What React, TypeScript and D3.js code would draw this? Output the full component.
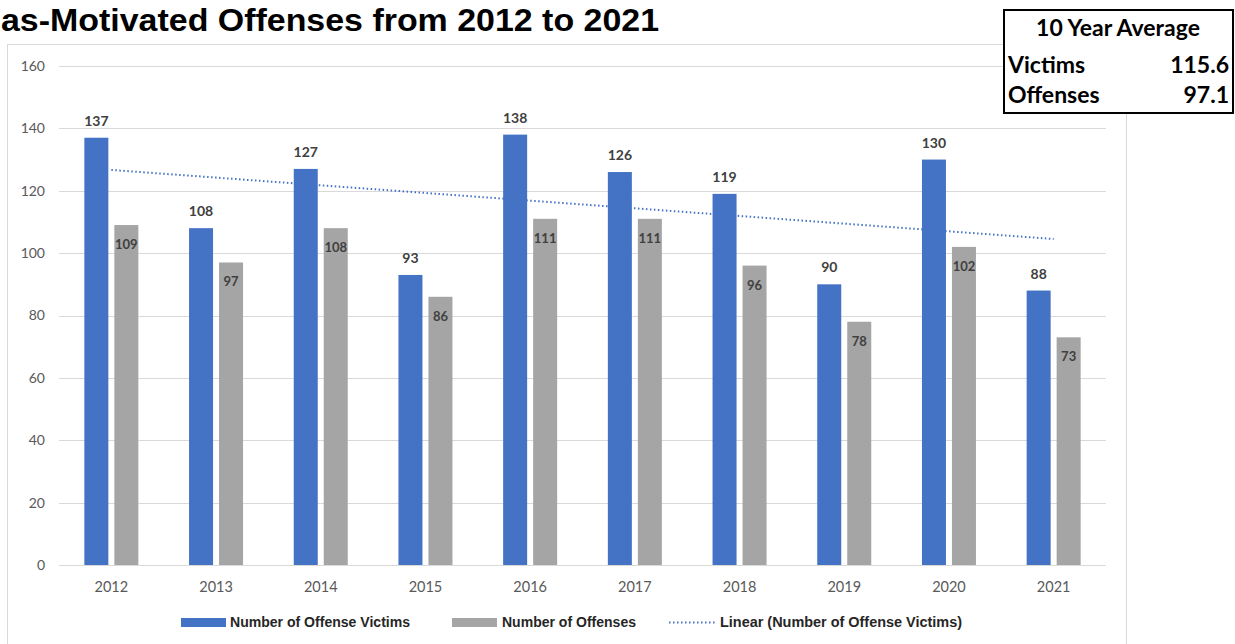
import React from "react";
import * as d3 from "d3";

const years = ["2012", "2013", "2014", "2015", "2016", "2017", "2018", "2019", "2020", "2021"];
const victims = [137, 108, 127, 93, 138, 126, 119, 90, 130, 88];
const offenses = [109, 97, 108, 86, 111, 111, 96, 78, 102, 73];
const yTicks = [0, 20, 40, 60, 80, 100, 120, 140, 160];
const avgLabels = ["Victims", "Offenses"];
const avgValues = ["115.6", "97.1"];
const legendLabels = ["Number of Offense Victims", "Number of Offenses", "Linear (Number of Offense Victims)"];
const titleText = "as-Motivated Offenses from 2012 to 2021";

const BLUE = "#4472C4";
const GRAY = "#A5A5A5";
const GRID = "#D9D9D9";
const AXIS_TXT = "#595959";
const LABEL_TXT = "#404040";

export default function App() {
  const W = 1235, H = 644;
  const x = d3.scaleBand<string>().domain(years).range([59, 1106]).paddingInner(0).paddingOuter(0);
  const y = d3.scaleLinear().domain([0, 160]).range([565, 66]);
  const bw = x.bandwidth();
  const inner = d3.scaleBand<string>().domain(["v", "o"]).range([bw / 2 - 27, bw / 2 + 27]).paddingInner(0.2);

  // linear trendline (least squares) of victims
  const xs = victims.map((_, i) => i + 1);
  const mx = d3.mean(xs)!;
  const my = d3.mean(victims)!;
  const slope = d3.sum(xs.map((xi, i) => (xi - mx) * (victims[i] - my))) / d3.sum(xs.map((xi) => (xi - mx) ** 2));
  const icpt = my - slope * mx;
  const trend = d3.line<number>()
    .x((xi) => x(years[xi - 1])! + bw / 2)
    .y((xi) => y(icpt + slope * xi));

  const sans = "'Liberation Sans', Arial, sans-serif";
  const cal = "Lato, 'Open Sans', sans-serif";

  return (
    <svg width={W} height={H} style={{ position: "absolute", left: 0, top: 0, background: "#fff" }}>
      {/* title */}
      <text x={1} y={31} fontFamily={sans} fontWeight="bold" fontSize={32} fill="#000" textLength={658} lengthAdjust="spacingAndGlyphs">
        {titleText}
      </text>
      {/* chart frame */}
      <rect x={7.5} y={44.5} width={1119} height={640} fill="none" stroke={GRID} strokeWidth={1} />
      {/* gridlines */}
      {yTicks.map((t) => (
        <line key={t} x1={59} x2={1106} y1={Math.round(y(t)) + 0.5} y2={Math.round(y(t)) + 0.5} stroke={GRID} strokeWidth={1} />
      ))}
      {yTicks.map((t) => (
        <text key={"l" + t} x={45} y={y(t)} dy="0.35em" textAnchor="end" fontFamily={cal} fontSize={14} fill={AXIS_TXT}>
          {t}
        </text>
      ))}
      {/* bars */}
      {years.map((yr, i) => {
        const x0 = x(yr)!;
        return (
          <g key={yr}>
            <rect x={x0 + inner("v")!} y={y(victims[i])} width={inner.bandwidth()} height={y(0) - y(victims[i])} fill={BLUE} />
            <rect x={x0 + inner("o")!} y={y(offenses[i])} width={inner.bandwidth()} height={y(0) - y(offenses[i])} fill={GRAY} />
          </g>
        );
      })}
      {/* trendline */}
      <path d={trend(xs) || ""} fill="none" stroke={BLUE} strokeWidth={2} strokeDasharray="1.5 2.5" strokeLinecap="butt" />
      {/* data labels */}
      {years.map((yr, i) => {
        const x0 = x(yr)!;
        return (
          <g key={"dl" + yr} fontFamily={cal} fontWeight="bold" fill={LABEL_TXT}>
            <text x={x0 + inner("v")! + inner.bandwidth() / 2} y={y(victims[i]) - 12} textAnchor="middle" fontSize={14}>
              {victims[i]}
            </text>
            <text x={x0 + inner("o")! + inner.bandwidth() / 2} y={y(offenses[i]) + 24} textAnchor="middle" fontSize={13}>
              {offenses[i]}
            </text>
          </g>
        );
      })}
      {/* x labels */}
      {years.map((yr) => (
        <text key={"x" + yr} x={x(yr)! + bw / 2} y={592} textAnchor="middle" fontFamily={cal} fontSize={14.5} fill={AXIS_TXT}>
          {yr}
        </text>
      ))}
      {/* legend */}
      <g fontFamily={sans} fontWeight="bold" fontSize={14.5} fill="#262626">
        <rect x={181} y={618} width={45} height={9} fill={BLUE} />
        <text x={230} y={627} textLength={180} lengthAdjust="spacingAndGlyphs">{legendLabels[0]}</text>
        <rect x={452} y={618} width={45} height={9} fill={GRAY} />
        <text x={502} y={627} textLength={134} lengthAdjust="spacingAndGlyphs">{legendLabels[1]}</text>
        <line x1={669} x2={715} y1={622.5} y2={622.5} stroke={BLUE} strokeWidth={2} strokeDasharray="1.5 2.5" />
        <text x={720} y={627} textLength={242} lengthAdjust="spacingAndGlyphs">{legendLabels[2]}</text>
      </g>
      {/* average table */}
      <rect x={1004} y={10} width={229} height={103} fill="#fff" stroke="#000" strokeWidth={2} />
      <g fontFamily={cal} fontWeight="bold" fill="#000">
        <text x={1118} y={36} textAnchor="middle" fontSize={23}>10 Year Average</text>
        {avgLabels.map((lab, i) => (
          <g key={lab}>
            <text x={1008} y={73 + i * 29.5} fontSize={23}>{lab}</text>
            <text x={1229} y={73 + i * 29.5} textAnchor="end" fontSize={23}>{avgValues[i]}</text>
          </g>
        ))}
      </g>
    </svg>
  );
}
